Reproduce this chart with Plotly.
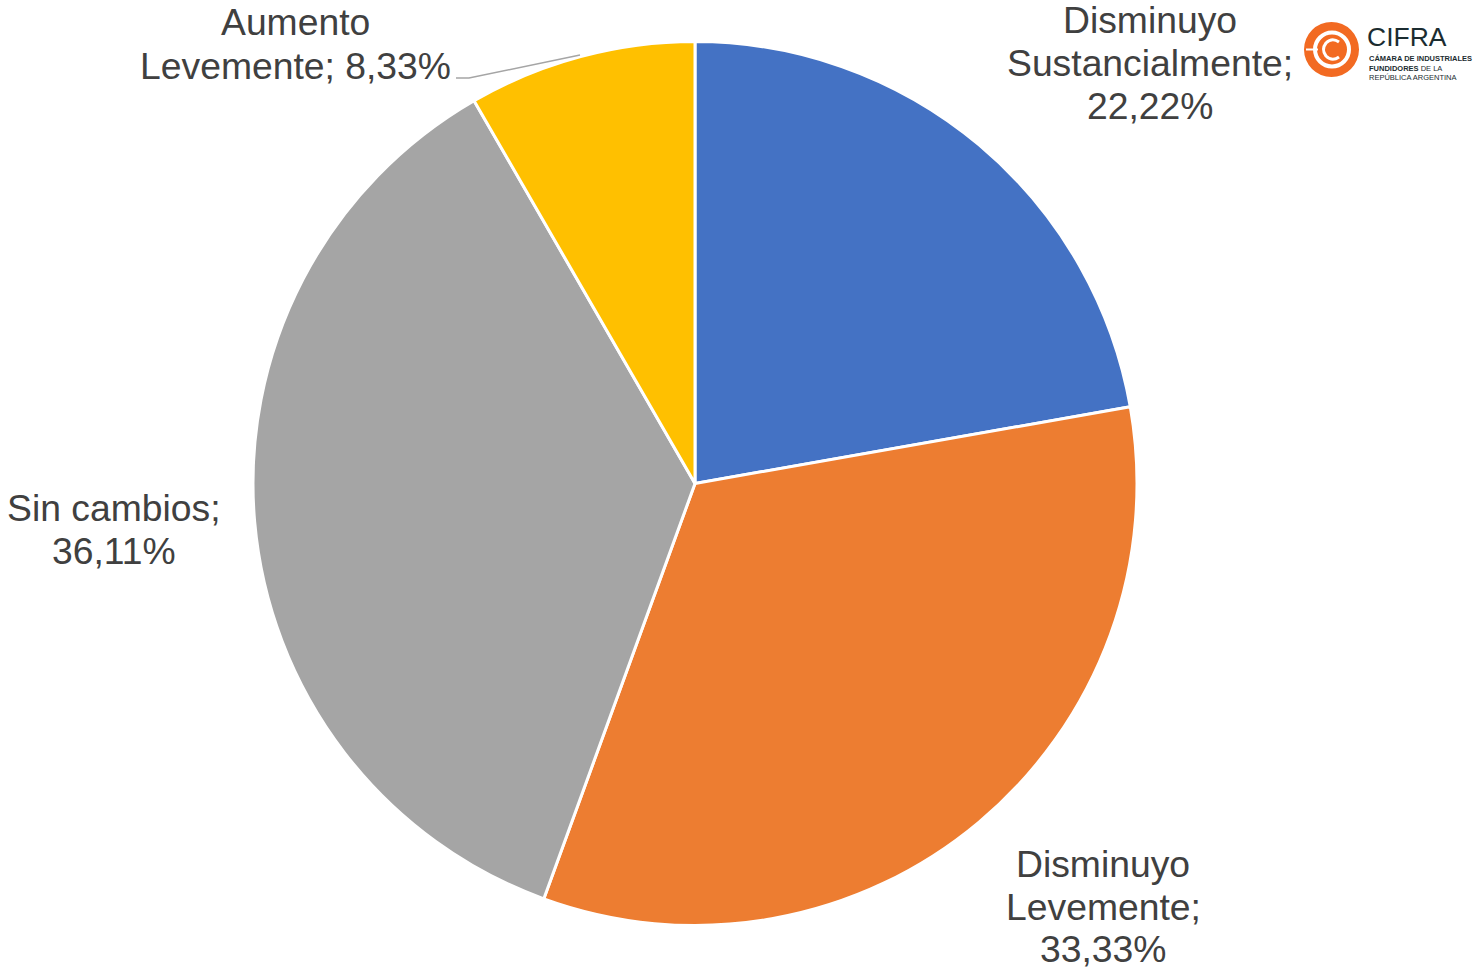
import plotly.graph_objects as go

categories = ["Disminuyo Sustancialmente", "Disminuyo Levemente", "Sin cambios", "Aumento Levemente"]
values = [22.22, 33.33, 36.11, 8.33]
colors = ["#4472C4", "#ED7D31", "#A5A5A5", "#FFC000"]
label_lines = [
    ["Disminuyo", "Sustancialmente;", "22,22%"],
    ["Disminuyo", "Levemente;", "33,33%"],
    ["Sin cambios;", "36,11%"],
    ["Aumento", "Levemente; 8,33%"],
]

W, H = 1473, 973
def px(x): return x / W
def py(y): return 1 - y / H

cx, cy, r = 695, 483.5, 442

fig = go.Figure(go.Pie(
    labels=categories, values=values, sort=False, direction="clockwise", rotation=0,
    marker=dict(colors=colors, line=dict(color="white", width=3)),
    textinfo="none", hoverinfo="label+percent", showlegend=False,
    domain=dict(x=[px(cx - r), px(cx + r)], y=[py(cy + r), py(cy - r)]),
))

label_pos = [
    (1150, [20, 63, 106]),
    (1103, [864, 907, 949]),
    (114, [508, 551]),
    (295, [22, 66]),
]
annotations = []
for lines, (x, ys) in zip(label_lines, label_pos):
    for t, y in zip(lines, ys):
        annotations.append(dict(x=px(x), y=py(y), xref="paper", yref="paper", text=t,
                                showarrow=False, xanchor="center", yanchor="middle",
                                font=dict(family="Liberation Sans, Arial", size=37.3, color="#404040")))

# Logo
logo_font = "Liberation Sans, Arial"
annotations += [
    dict(x=px(1365), y=py(37), xref="paper", yref="paper", text="CIFRA", showarrow=False,
         xanchor="left", yanchor="middle", font=dict(family=logo_font, size=26.5, color="#1B2C30")),
    dict(x=px(1367), y=py(58.5), xref="paper", yref="paper", text="<b>CÁMARA DE INDUSTRIALES</b>",
         showarrow=False, xanchor="left", yanchor="middle", font=dict(family=logo_font, size=7.5, color="#1B2C30")),
    dict(x=px(1367), y=py(68), xref="paper", yref="paper", text="<b>FUNDIDORES</b> DE LA",
         showarrow=False, xanchor="left", yanchor="middle", font=dict(family=logo_font, size=7.5, color="#1B2C30")),
    dict(x=px(1367), y=py(77.5), xref="paper", yref="paper", text="REPÚBLICA ARGENTINA",
         showarrow=False, xanchor="left", yanchor="middle", font=dict(family=logo_font, size=7.5, color="#1B2C30")),
]

shapes = [
    # leader line
    dict(type="path", xref="paper", yref="paper",
         path=f"M {px(456)} {py(78)} L {px(469)} {py(78)} L {px(580)} {py(55)}",
         line=dict(color="#A5A5A5", width=1.5)),
    # logo disk
    dict(type="circle", xref="paper", yref="paper", x0=px(1304), x1=px(1359), y0=py(77), y1=py(22),
         fillcolor="#F26A22", line=dict(width=0)),
    dict(type="circle", xref="paper", yref="paper", x0=px(1315), x1=px(1349), y0=py(66.5), y1=py(32.5),
         fillcolor="rgba(0,0,0,0)", line=dict(color="white", width=4)),
    dict(type="line", xref="paper", yref="paper", x0=px(1306), x1=px(1318), y0=py(49.5), y1=py(49.5),
         line=dict(color="white", width=2)),
    dict(type="path", xref="paper", yref="paper",
         path=f"M {px(1339)} {py(42)} Q {px(1332)} {py(37)} {px(1326)} {py(43)} Q {px(1321)} {py(49.5)} {px(1326)} {py(56)} Q {px(1332)} {py(62)} {px(1339)} {py(57)}",
         line=dict(color="white", width=3)),
]

fig.update_layout(width=W, height=H, margin=dict(l=0, r=0, t=0, b=0),
                  paper_bgcolor="white", plot_bgcolor="white",
                  annotations=annotations, shapes=shapes)

fig.write_html("out.html", config={"displayModeBar": False},
               post_script="document.body.style.margin='0';document.body.style.overflow='hidden';")
